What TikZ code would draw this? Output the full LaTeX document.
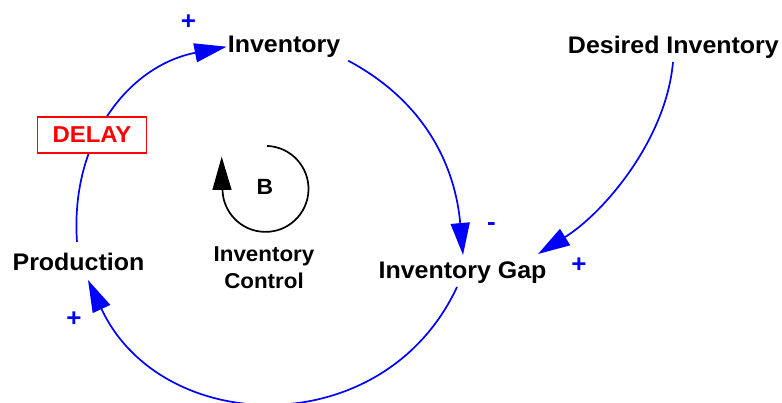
\documentclass[tikz,border=0pt]{standalone}
\usepackage{fontspec}
\newfontfamily\lsans{Liberation Sans}[FakeStretch=1.04]
\usetikzlibrary{arrows.meta}
\definecolor{cldblue}{RGB}{0,0,255}
\definecolor{cldred}{RGB}{255,0,0}
\begin{document}
\begin{tikzpicture}[x=1pt,y=1pt,
  lab/.style={font=\lsans\bfseries\fontsize{24}{28}\selectfont, inner sep=0pt, anchor=base},
  smalllab/.style={font=\lsans\bfseries\fontsize{21.5}{26.6}\selectfont, inner sep=0pt, anchor=base, align=center},
  link/.style={draw=cldblue, line width=1.7pt, -{Triangle[length=32pt,width=19pt]}},
  pol/.style={text=cldblue, font=\lsans\bfseries\fontsize{25}{28}\selectfont, inner sep=0pt, anchor=base},
  delaybox/.style={draw=cldred, line width=1.7pt, fill=white, text=cldred,
    font=\lsans\bfseries\fontsize{23}{26}\selectfont, minimum width=109pt, minimum height=36pt, inner sep=0pt}
]
\useasboundingbox (0,0) rectangle (782,402);
% variables
\node[lab] (inv)  at (284,349.3)   {Inventory};
\node[lab] (des)  at (673.4,348.7) {Desired Inventory};
\node[lab] (prod) at (78.5,131.3)  {Production};
\node[lab] (gap)  at (462.5,123.7) {Inventory Gap};
% loop identifier
\node[smalllab] (ctrl) at (264,113.7) {Inventory\\Control};
\node[lab, font=\lsans\bfseries\fontsize{22}{26}\selectfont] (bsym) at (265,207) {B};
\draw[black, line width=1.7pt] (265.5,213.1) ++(88:43) arc[start angle=88, end angle=-180, radius=43];
\fill[black] (212.3,212) -- (231.7,212) -- (221.7,245.3) -- cycle;
% causal links
\draw[link] ([shift={(-1.5,28.7)}]prod.base) to[out=94,in=191,looseness=1.05] ([shift={(-1.1,6)}]inv.base west);
\draw[link] ([shift={(7.8,-8)}]inv.base east) to[out=-28,in=95] ([shift={(0.5,23.3)}]gap.base);
\draw[link] ([shift={(-5.5,-8.7)}]gap.base) to[out=245,in=-65,looseness=1.2] ([shift={(9.5,-9.3)}]prod.base);
\draw[link] ([shift={(-0.4,-8.7)}]des.base) to[out=265,in=32,looseness=0.85] ([shift={(75.5,24.3)}]gap.base);
% delay mark
\node[delaybox] (delay) at (92,267) {DELAY};
% polarities
\node[pol] (p1) at (188.5,372.5) {+};
\node[pol] (p2) at (491.5,171.6) {-};
\node[pol] (p3) at (579,129.5) {+};
\node[pol] (p4) at (74,75.5) {+};
\end{tikzpicture}
\end{document}
